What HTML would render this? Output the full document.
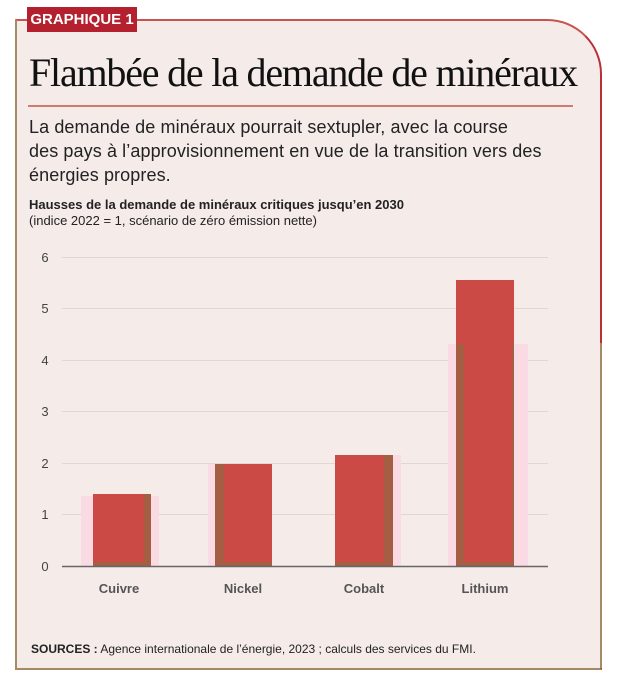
<!DOCTYPE html>
<html><head><meta charset="utf-8"><style>
body{margin:0;width:617px;height:685px;background:#fff;position:relative;overflow:hidden;font-family:"Liberation Sans",sans-serif}
.box{position:absolute;left:15px;top:19px;width:583px;height:647px;background:#f5ecea;border:2px solid #a58a68;border-top-color:#c9534f;border-right-color:#b8303a;border-top-right-radius:55px}
.rb{position:absolute;left:600px;top:343px;width:2px;height:325px;background:#a58a68}
.tag{position:absolute;left:27px;top:7px;width:110px;height:25px;background:#b5202e;color:#fff;font-weight:bold;font-size:15px;line-height:25px;text-align:center;white-space:nowrap}
.t{position:absolute;left:29px;top:49px;font-family:"Liberation Serif",serif;font-size:40px;letter-spacing:-1.2px;color:#111;white-space:nowrap}
.rule{position:absolute;left:28px;top:105px;width:545px;height:2px;background:#d07a70}
.sub{position:absolute;left:29px;top:115px;font-size:18px;letter-spacing:0.1px;line-height:24px;color:#222;white-space:nowrap}
.h{position:absolute;left:29px;top:197px;font-size:13px;font-weight:bold;color:#222}
.h2{position:absolute;left:29px;top:213px;font-size:13px;color:#222}
.src{position:absolute;left:31px;top:642px;font-size:12px;color:#222}
</style></head><body>
<div class="box"></div>
<div class="rb"></div>
<div class="tag">GRAPHIQUE 1</div>
<div class="t">Flambée de la demande de minéraux</div>
<div class="rule"></div>
<div class="sub">La demande de minéraux pourrait sextupler, avec la course<br>des pays à l’approvisionnement en vue de la transition vers des<br>énergies propres.</div>
<div class="h">Hausses de la demande de minéraux critiques jusqu’en 2030</div>
<div class="h2">(indice 2022 = 1, scénario de zéro émission nette)</div>
<svg style="position:absolute;left:0;top:0" width="617" height="685">
<g stroke="#e2d6d4" stroke-width="1">
<line x1="62" x2="548" y1="257.5" y2="257.5"/><line x1="62" x2="548" y1="308.5" y2="308.5"/><line x1="62" x2="548" y1="360.5" y2="360.5"/><line x1="62" x2="548" y1="411.5" y2="411.5"/><line x1="62" x2="548" y1="463.5" y2="463.5"/><line x1="62" x2="548" y1="514.5" y2="514.5"/>
</g>
<g font-size="13" fill="#444" text-anchor="middle">
<text x="45" y="262">6</text><text x="45" y="313">5</text><text x="45" y="365">4</text><text x="45" y="416">3</text><text x="45" y="468">2</text><text x="45" y="519">1</text><text x="45" y="571">0</text>
</g>
<g fill="#fbdbe3">
<rect x="81" y="496" width="78" height="70"/><rect x="208" y="464" width="64" height="102"/><rect x="335" y="455" width="66" height="111"/><rect x="448" y="344" width="80" height="222"/>
</g>
<g fill="#cc4a46">
<rect x="93" y="494" width="58" height="72"/><rect x="215" y="464" width="57" height="102"/><rect x="335" y="455" width="58" height="111"/><rect x="456" y="280" width="58" height="286"/>
</g>
<g fill="#a35e44">
<rect x="144" y="494" width="7" height="72"/><rect x="215" y="464" width="9" height="102"/><rect x="384" y="455" width="9" height="111"/><rect x="456" y="344" width="8" height="222"/><rect x="512" y="344" width="2" height="222"/>
<rect x="93" y="562" width="58" height="4"/><rect x="215" y="562" width="57" height="4"/><rect x="335" y="562" width="58" height="4"/><rect x="456" y="562" width="58" height="4"/>
</g>
<line x1="62" x2="548" y1="566.5" y2="566.5" stroke="#666" stroke-width="1.5"/>
<g font-size="13" font-weight="bold" fill="#555" text-anchor="middle">
<text x="119" y="593">Cuivre</text><text x="243" y="593">Nickel</text><text x="364" y="593">Cobalt</text><text x="485" y="593">Lithium</text>
</g>
</svg>
<div class="src"><b>SOURCES :</b> Agence internationale de l’énergie, 2023 ; calculs des services du FMI.</div>
</body></html>
